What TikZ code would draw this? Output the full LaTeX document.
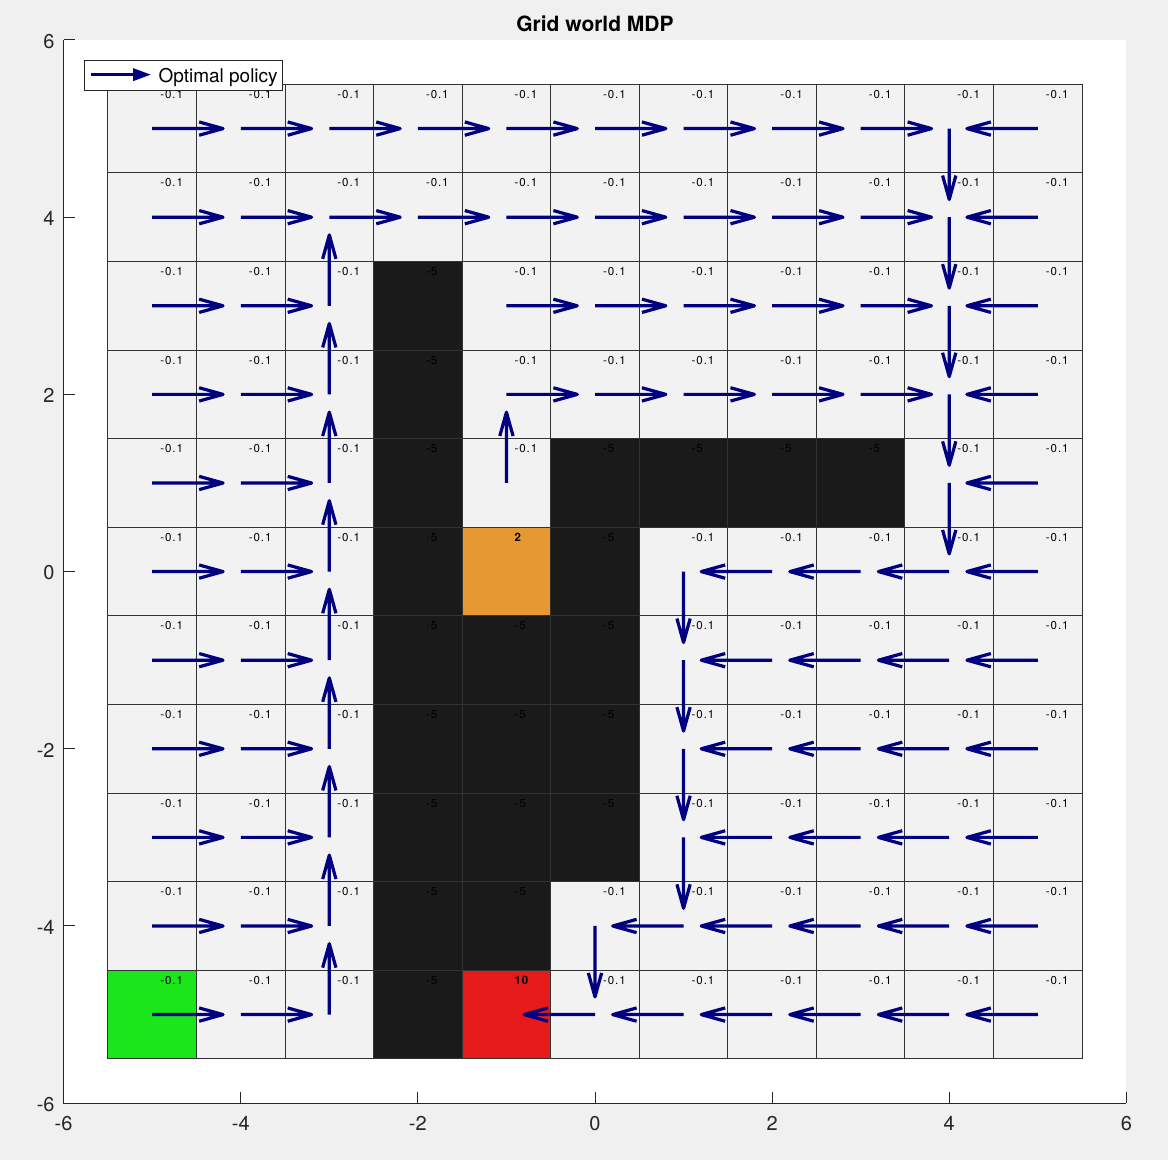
\documentclass[tikz,border=0pt]{standalone}
\usepackage{fontspec}
\setmainfont{TeX Gyre Heros}
\newfontfamily\labfont[LetterSpace=8]{TeX Gyre Heros}
\usetikzlibrary{arrows.meta}
\definecolor{figbg}{HTML}{F0F0F0}
\definecolor{cellbg}{HTML}{F2F2F2}
\definecolor{wallc}{HTML}{1A1A1A}
\definecolor{goalc}{HTML}{E61A1A}
\definecolor{orngc}{HTML}{E69933}
\definecolor{startc}{HTML}{1AE61A}
\definecolor{navyq}{HTML}{000080}
\definecolor{axc}{HTML}{262626}
\tikzset{
  cellline/.style={draw=black!80, line width=1pt},
  clab/.style={anchor=base west, inner sep=0pt, font=\labfont\fontsize{11.5}{13}\selectfont},
  qv/.style={navyq, line width=3.2pt, line cap=butt, line join=round},
  axline/.style={axc, line width=1pt},
  ticklab/.style={inner sep=0pt, text=axc, font=\fontsize{20}{24}\selectfont}
}
\newcommand\gcell[3]{\draw[cellline, fill=#3] (#1-0.5,#2-0.5) rectangle (#1+0.5,#2+0.5);}
\newcommand\glab[4]{\node[clab] (lab#4) at (#1+0.09,#2+0.343) {#3};}
\newcommand\garr[3]{\draw[qv, shift={(#1,#2)}, rotate=#3] (0,0) -- (0.8,0) (0.53,0.075) -- (0.8,0) -- (0.53,-0.075);}
\newcommand\cellR[3]{\gcell{#1}{#2}{cellbg}\glab{#1}{#2}{-0.1}{#3}}
\let\cellL\cellR \let\cellU\cellR \let\cellD\cellR
\newcommand\cellS[3]{\gcell{#1}{#2}{startc}\glab{#1}{#2}{-0.1}{#3}}
\newcommand\cellW[3]{\gcell{#1}{#2}{wallc}\glab{#1}{#2}{-5}{#3}}
\newcommand\cellO[3]{\gcell{#1}{#2}{orngc}\glab{#1}{#2}{\bfseries 2}{#3}}
\newcommand\cellT[3]{\gcell{#1}{#2}{goalc}\glab{#1}{#2}{\bfseries 10}{#3}}
\newcommand\arrR[2]{\garr{#1}{#2}{0}}
\newcommand\arrS[2]{\garr{#1}{#2}{0}}
\newcommand\arrL[2]{\garr{#1}{#2}{180}}
\newcommand\arrU[2]{\garr{#1}{#2}{90}}
\newcommand\arrD[2]{\garr{#1}{#2}{270}}
\newcommand\arrW[2]{}
\newcommand\arrO[2]{}
\newcommand\arrT[2]{}
\def\policy{
 {R,R,R,R,R,R,R,R,R,D,L},
 {R,R,R,R,R,R,R,R,R,D,L},
 {R,R,U,W,R,R,R,R,R,D,L},
 {R,R,U,W,R,R,R,R,R,D,L},
 {R,R,U,W,U,W,W,W,W,D,L},
 {R,R,U,W,O,W,D,L,L,L,L},
 {R,R,U,W,W,W,D,L,L,L,L},
 {R,R,U,W,W,W,D,L,L,L,L},
 {R,R,U,W,W,W,D,L,L,L,L},
 {R,R,U,W,W,D,L,L,L,L,L},
 {S,R,U,W,T,L,L,L,L,L,L}}
\begin{document}
\begin{tikzpicture}[x=88.56pt,y=88.6pt]
\useasboundingbox[fill=figbg] (-6.7187,-6.6405) rectangle (6.4702,6.4515);
\fill[white] (-6,-6) rectangle (6,6);
% cells and reward labels
\foreach \row [count=\r, evaluate=\r as \y using int(6-\r)] in \policy {
  \foreach \t [count=\i, evaluate=\i as \x using int(\i-6)] in \row {
    \csname cell\t\endcsname{\x}{\y}{\i-\r}
  }
}
% policy arrows
\foreach \row [count=\r, evaluate=\r as \y using int(6-\r)] in \policy {
  \foreach \t [count=\i, evaluate=\i as \x using int(\i-6)] in \row {
    \csname arr\t\endcsname{\x}{\y}
  }
}
% axes
\draw[axline] (-6,6) -- (-6,-6) -- (6,-6);
\foreach \v in {-6,-4,-2,0,2,4,6} {
  \draw[axline] (\v,-6) -- ++(0,11pt);
  \draw[axline] (-6,\v) -- ++(11pt,0);
  \node[ticklab, anchor=base] (xt\v) at (\v,-6.31) {\v};
  \node[ticklab, anchor=base east] (yt\v) at (-6.1,\v-0.093) {\v};
}
% title
\node[anchor=base, inner sep=0pt, font=\fontsize{21}{25}\selectfont\bfseries] (title) at (0,6.094) {Grid world MDP};
% legend
\draw[black!85, fill=white, line width=0.9pt] (-5.767,5.433) rectangle (-3.526,5.767);
\coordinate (lgA) at (-5.686,5.609);
\coordinate (lgB) at (-5.012,5.609);
\draw[navyq, line width=3.2pt, -{Triangle[length=18pt,width=12pt]}] (lgA) -- (lgB);
\node[anchor=base west, inner sep=0pt, font=\fontsize{19}{23}\selectfont] (legtext) at (-4.931,5.519) {Optimal policy};
\end{tikzpicture}
\end{document}
